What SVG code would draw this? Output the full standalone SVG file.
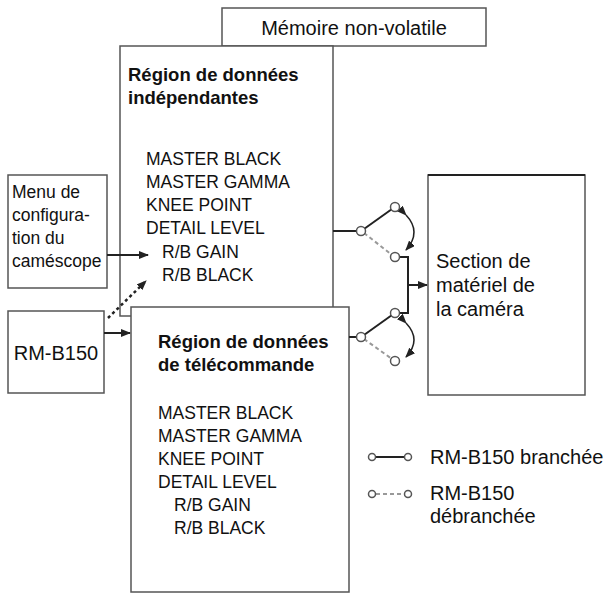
<svg xmlns="http://www.w3.org/2000/svg" width="612" height="595" viewBox="0 0 612 595">
<style>
text{font-family:"Liberation Sans",Arial,sans-serif;font-size:17.5px;fill:#111}
.b{font-weight:bold;font-size:18.5px}
.l{font-size:20px}
.box{fill:#fff;stroke:#555;stroke-width:1.5}
.ln{stroke:#222;stroke-width:2;fill:none}
.dl{stroke:#999;stroke-width:2;fill:none;stroke-dasharray:4 3}
.c{fill:#fff;stroke:#555;stroke-width:1.5}
</style>
<defs>
<marker id="a" markerWidth="10" markerHeight="8" refX="9" refY="4" orient="auto" markerUnits="userSpaceOnUse"><path d="M0,0L10,4L0,8z" fill="#222"/></marker>
</defs>
<g id="mem"><rect class="box" x="222" y="8" width="264" height="38"/><text class="l" x="354" y="35" text-anchor="middle">Mémoire non-volatile</text></g>
<g id="indep"><rect class="box" x="120" y="46" width="213" height="270"/>
<text class="b" x="128" y="81">Région de données</text><text class="b" x="128" y="104">indépendantes</text>
<text x="146" y="165">MASTER BLACK</text><text x="146" y="188">MASTER GAMMA</text><text x="146" y="211">KNEE POINT</text><text x="146" y="234">DETAIL LEVEL</text><text x="162" y="258">R/B GAIN</text><text x="162" y="281">R/B BLACK</text></g>
<g id="tele"><rect class="box" x="131" y="307" width="218" height="285"/>
<text class="b" x="158" y="348">Région de données</text><text class="b" x="158" y="371">de télécommande</text>
<text x="158" y="419">MASTER BLACK</text><text x="158" y="442">MASTER GAMMA</text><text x="158" y="465">KNEE POINT</text><text x="158" y="488">DETAIL LEVEL</text><text x="174" y="511">R/B GAIN</text><text x="174" y="534">R/B BLACK</text></g>
<g id="menu"><rect class="box" x="8" y="175" width="99" height="113"/>
<text x="12" y="198">Menu de</text><text x="12" y="221">configura-</text><text x="12" y="244">tion du</text><text x="12" y="267">caméscope</text></g>
<g id="rm"><rect class="box" x="8" y="311" width="96" height="82"/><text class="l" x="56" y="360" text-anchor="middle">RM-B150</text></g>
<g id="section"><rect class="box" x="428" y="175" width="157" height="220"/><line x1="428" y1="175" x2="585" y2="175" stroke="#222" stroke-width="2"/>
<text class="l" x="436" y="268">Section de</text><text class="l" x="436" y="292">matériel de</text><text class="l" x="436" y="316">la caméra</text></g>
<g id="connectors">
<line class="ln" x1="107" y1="255" x2="148" y2="255" marker-end="url(#a)"/>
<line class="ln" x1="104" y1="333" x2="130" y2="333" marker-end="url(#a)"/>
<line x1="108" y1="318" x2="146" y2="281" stroke="#222" stroke-width="2.5" stroke-dasharray="3 3" marker-end="url(#a)"/>
<line class="ln" x1="333" y1="231" x2="357" y2="231"/>
<line class="ln" x1="364" y1="229" x2="392" y2="209"/>
<line class="dl" x1="364" y1="233" x2="392" y2="255"/>
<line class="ln" x1="349" y1="337" x2="357" y2="337"/>
<line class="ln" x1="364" y1="335" x2="392" y2="315"/>
<line class="dl" x1="364" y1="339" x2="392" y2="359"/>
<path class="ln" d="M399,257H408V313H399"/>
<line class="ln" x1="408" y1="285" x2="427" y2="285" marker-end="url(#a)"/>
<path d="M406,215Q422,232 406,250" fill="none" stroke="#222" stroke-width="1.5" marker-start="url(#a)" marker-end="url(#a)"/>
<path d="M406,323Q422,340 406,357" fill="none" stroke="#222" stroke-width="1.5" marker-start="url(#a)" marker-end="url(#a)"/>
<circle class="c" cx="361" cy="231" r="4.5"/><circle class="c" cx="395" cy="207" r="4.5"/><circle class="c" cx="395" cy="257" r="4.5"/>
<circle class="c" cx="361" cy="337" r="4.5"/><circle class="c" cx="395" cy="313" r="4.5"/><circle class="c" cx="395" cy="361" r="4.5"/>
</g>
<g id="legend">
<line class="ln" x1="376" y1="457" x2="404" y2="457"/><circle class="c" cx="372" cy="457" r="3.5"/><circle class="c" cx="408" cy="457" r="3.5"/>
<text class="l" x="430" y="464">RM-B150 branchée</text>
<line class="dl" x1="376" y1="494" x2="404" y2="494"/><circle class="c" cx="372" cy="494" r="3.5"/><circle class="c" cx="408" cy="494" r="3.5"/>
<text class="l" x="430" y="500">RM-B150</text><text class="l" x="430" y="523">débranchée</text>
</g>
</svg>
